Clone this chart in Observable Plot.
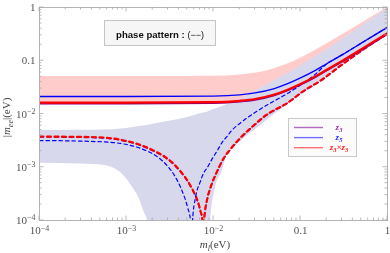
<!DOCTYPE html>
<html><head><meta charset="utf-8">
<script src="https://cdn.jsdelivr.net/npm/d3@7"></script>
<script src="https://cdn.jsdelivr.net/npm/@observablehq/plot@0.6"></script>
<style>
body{margin:0;background:#fff;}
#chart{width:390px;height:253px;}
</style></head><body><div id="chart"></div>
<script>
// ---------- data ----------
// Inverted ordering band (pink)
const ioM     = [1e-4, 1e-3, 5e-3, 0.01, 0.02, 0.03, 0.05, 0.07, 0.1, 0.15, 0.2, 0.3, 0.5, 0.7, 1];
const ioUpper = [0.0506, 0.0506, 0.0508, 0.051, 0.054, 0.058, 0.071, 0.086, 0.112, 0.158, 0.206, 0.304, 0.502, 0.70, 1.0];
const ioLower = [0.0151, 0.0151, 0.0152, 0.0153, 0.0160, 0.0172, 0.0208, 0.0254, 0.0325, 0.046, 0.060, 0.089, 0.148, 0.208, 0.298];

// Normal ordering band (lavender)
const noM     = [1e-4, 3e-4, 5.4e-4, 9.2e-4, 1.2e-3, 1.4e-3, 1.6e-3, 1.74e-3, 1.78e-3, 3e-3, 5e-3, 7e-3, 9.2e-3, 9.3e-3, 0.0105, 0.0127, 0.0145, 0.0189, 0.0228, 0.03, 0.05, 0.07, 0.1, 0.15, 0.2, 0.3, 0.5, 0.7, 1];
const noUpper = [4.9e-3, 4.95e-3, 5.0e-3, 5.3e-3, 5.6e-3, 5.8e-3, 6.0e-3, 6.1e-3, 6.15e-3, 7.2e-3, 8.6e-3, 0.0101, 0.0114, 0.0115, 0.0124, 0.0138, 0.0150, 0.0178, 0.0205, 0.0265, 0.042, 0.057, 0.08, 0.12, 0.16, 0.25, 0.44, 0.64, 0.95];
const noLower = [1.19e-3, 1.15e-3, 1.09e-3, 7.1e-4, 4.0e-4, 2.6e-4, 1.41e-4, 1e-4, 1e-6, 1e-6, 1e-6, 1e-6, 1e-6, 1e-4, 4e-4, 8.7e-4, 1.8e-3, 2.7e-3, 3.6e-3, 5.0e-3, 9.8e-3, 0.0148, 0.023, 0.037, 0.052, 0.083, 0.145, 0.205, 0.295];

// Solid lines (inverted ordering)
const solidM   = [1e-4, 1e-3, 0.01, 0.02, 0.03, 0.05, 0.07, 0.1, 0.15, 0.2, 0.3, 0.5, 0.7, 1];
const z5Solid  = [0.0213, 0.0213, 0.0217, 0.0229, 0.0249, 0.0301, 0.0367, 0.0476, 0.0668, 0.0878, 0.129, 0.214, 0.299, 0.426];
const z33Solid = [0.0164, 0.0164, 0.0167, 0.0177, 0.0191, 0.0232, 0.0283, 0.0367, 0.0515, 0.0676, 0.0996, 0.165, 0.231, 0.328];
const z3Solid  = [0.0156, 0.0156, 0.0159, 0.0169, 0.0183, 0.0222, 0.0271, 0.0352, 0.0494, 0.0649, 0.0956, 0.158, 0.222, 0.315];

// Dashed lines (normal ordering)
const redDM  = [1e-4, 3e-4, 5.4e-4, 8.5e-4, 1.3e-3, 2.04e-3, 2.8e-3, 3.47e-3, 4.2e-3, 5.02e-3, 5.8e-3, 6.55e-3, 7.1e-3, 7.48e-3, 7.62e-3, 7.8e-3, 8.53e-3, 9.25e-3, 0.0111, 0.013, 0.0157, 0.0204, 0.0266, 0.04, 0.071, 0.108, 0.17, 0.31, 0.5, 0.7, 1];
const z33Dash = [3.77e-3, 3.72e-3, 3.62e-3, 3.3e-3, 2.79e-3, 2.07e-3, 1.55e-3, 1.17e-3, 8.3e-4, 5.63e-4, 3.7e-4, 2.38e-4, 1.5e-4, 1e-4, 1e-5, 1e-4, 2.7e-4, 4.2e-4, 8.7e-4, 1.45e-3, 2.2e-3, 3.6e-3, 5.4e-3, 9.5e-3, 0.0163, 0.027, 0.0425, 0.0887, 0.155, 0.225, 0.325];
const z3Dash  = [3.70e-3, 3.65e-3, 3.55e-3, 3.24e-3, 2.73e-3, 2.02e-3, 1.51e-3, 1.14e-3, 8.1e-4, 5.5e-4, 3.6e-4, 2.3e-4, 1.45e-4, 1e-4, 1e-5, 1e-4, 2.6e-4, 4.1e-4, 8.5e-4, 1.42e-3, 2.15e-3, 3.5e-3, 5.3e-3, 9.3e-3, 0.016, 0.0265, 0.0418, 0.087, 0.152, 0.22, 0.318];
const blueDM  = [1e-4, 5.4e-4, 8.5e-4, 1.3e-3, 1.74e-3, 2.3e-3, 2.96e-3, 3.6e-3, 4.18e-3, 5.02e-3, 5.45e-3, 5.6e-3, 5.74e-3, 6.21e-3, 7e-3, 7.67e-3, 8.53e-3, 0.0098, 0.0111, 0.0125, 0.0145, 0.016, 0.0204, 0.0288, 0.045, 0.071, 0.1, 0.141, 0.2, 0.3, 0.5, 0.7, 1];
const z5Dash  = [3.18e-3, 3.0e-3, 2.8e-3, 2.4e-3, 2.0e-3, 1.55e-3, 1.05e-3, 6.8e-4, 4.2e-4, 1.8e-4, 1e-4, 1e-5, 1e-4, 2.7e-4, 5.2e-4, 7.64e-4, 1.0e-3, 1.5e-3, 2.07e-3, 2.9e-3, 3.9e-3, 4.8e-3, 6.8e-3, 0.0102, 0.016, 0.0243, 0.035, 0.052, 0.087, 0.129, 0.214, 0.299, 0.426];

// Ticks and labels
const xTickVals   = [1e-4, 1e-3, 1e-2, 0.1, 1];
const xTickLabels = ["10^-4", "10^-3", "10^-2", "0.1", "1"];
const yTickVals   = [1e-4, 1e-3, 1e-2, 0.1, 1];
const yTickLabels = ["10^-4", "10^-3", "10^-2", "0.1", "1"];

const legendSubs   = [["3"], ["5"], ["3", "3"]];
const legendColors = ["#9b30a8", "#2b2bff", "#ff2020"];
const legendLines  = ["#b06cc0", "#7070ff", "#ff7070"];

// ---------- tables ----------
const ioTable = ioM.map((m, i) => ({m, lo: ioLower[i], hi: ioUpper[i]}));
const noTable = noM.map((m, i) => ({m, lo: noLower[i], hi: noUpper[i]}));
const tbl = (ms, vs) => ms.map((m, i) => ({m, v: vs[i]}));
const labelOf = (vals, labels) => (d) => {
  let best = 0;
  vals.forEach((v, i) => { if (Math.abs(Math.log10(v) - Math.log10(d)) < Math.abs(Math.log10(vals[best]) - Math.log10(d))) best = i; });
  return labels[best];
};

const lineOpts = (extra) => Object.assign({x: "m", y: "v", clip: true, curve: "monotone-x"}, extra);

const chart = Plot.plot({
  width: 390, height: 253,
  marginLeft: 39, marginRight: 3, marginTop: 7, marginBottom: 33,
  style: {background: "white", fontFamily: "Liberation Serif", fontSize: "11px", color: "#555", overflow: "visible"},
  x: {type: "log", domain: [1e-4, 1]},
  y: {type: "log", domain: [1e-4, 1]},
  marks: [
    Plot.areaY(ioTable, {x: "m", y1: "lo", y2: "hi", fill: "#ffcccc", mixBlendMode: "multiply", clip: true, curve: "monotone-x"}),
    Plot.areaY(noTable, {x: "m", y1: "lo", y2: "hi", fill: "#d8d8ec", mixBlendMode: "multiply", clip: true, curve: "monotone-x"}),
    Plot.line(tbl(redDM, z3Dash), lineOpts({stroke: "#800080", strokeWidth: 1.6, strokeDasharray: "4,3.5"})),
    Plot.line(tbl(redDM, z33Dash), lineOpts({stroke: "#ff0000", strokeWidth: 2.1, strokeDasharray: "4,3.5"})),
    Plot.line(tbl(blueDM, z5Dash), lineOpts({stroke: "#0000ff", strokeWidth: 1.2, strokeDasharray: "3.5,3"})),
    Plot.line(tbl(solidM, z3Solid), lineOpts({stroke: "#800080", strokeWidth: 1.4})),
    Plot.line(tbl(solidM, z33Solid), lineOpts({stroke: "#ff0000", strokeWidth: 2.2})),
    Plot.line(tbl(solidM, z5Solid), lineOpts({stroke: "#0000ff", strokeWidth: 1.3})),
    Plot.frame({stroke: "#b4b4b4"}),
    Plot.axisX({ticks: xTickVals, tickFormat: labelOf(xTickVals, xTickLabels), tickSize: 0, tickPadding: 6, label: null, fontSize: 11}),
    Plot.axisY({ticks: yTickVals, tickFormat: labelOf(yTickVals, yTickLabels), tickSize: 0, tickPadding: 4, label: null, fontSize: 11})
  ]
});
document.getElementById("chart").appendChild(chart);

// ---------- superscript tick labels ----------
const svg = d3.select(chart);
svg.selectAll("text").each(function() {
  const t = d3.select(this);
  if (t.selectAll("tspan").size() > 1) return;
  const s = t.text();
  const mm = s.match(/^10\^-(\d)$/);
  if (mm) {
    t.selectAll("*").remove();
    t.text("");
    t.append("tspan").text("10");
    t.append("tspan").attr("dy", "-0.45em").attr("font-size", "0.72em").text("\u2212" + mm[1]);
  }
});

// ---------- inside ticks on all four sides ----------
const sx = chart.scale("x"), sy = chart.scale("y");
const x0 = sx.apply(1e-4), x1 = sx.apply(1), y0 = sy.apply(1e-4), y1 = sy.apply(1);
const tg = svg.append("g").attr("stroke", "#a8a8a8").attr("stroke-width", 0.8);
const minor = [];
for (let e = -4; e < 0; e++) for (let k = 2; k <= 9; k++) minor.push(k * Math.pow(10, e));
const tickSet = [...xTickVals.map(v => [v, 4.5]), ...minor.map(v => [v, 2.5])];
for (const [v, len] of tickSet) {
  const px = sx.apply(v), py = sy.apply(v);
  tg.append("line").attr("x1", px).attr("x2", px).attr("y1", y0).attr("y2", y0 - len);
  tg.append("line").attr("x1", px).attr("x2", px).attr("y1", y1).attr("y2", y1 + len);
  tg.append("line").attr("y1", py).attr("y2", py).attr("x1", x0).attr("x2", x0 + len);
  tg.append("line").attr("y1", py).attr("y2", py).attr("x1", x1).attr("x2", x1 - len);
}

// ---------- axis labels ----------
const ylab = svg.append("text")
  .attr("transform", `translate(10,${(y0 + y1) / 2 + 4}) rotate(-90)`)
  .attr("text-anchor", "middle").attr("font-family", "Liberation Serif").attr("font-size", 11).attr("fill", "#444");
ylab.append("tspan").text("|");
ylab.append("tspan").attr("font-style", "italic").text("m");
ylab.append("tspan").attr("font-style", "italic").attr("font-size", 8).attr("dy", 2.5).text("ee");
ylab.append("tspan").attr("dy", -2.5).text("|(eV)");

const xlab = svg.append("text")
  .attr("x", (x0 + x1) / 2 + 2).attr("y", 248)
  .attr("text-anchor", "middle").attr("font-family", "Liberation Serif").attr("font-size", 11).attr("fill", "#444");
xlab.append("tspan").attr("font-style", "italic").text("m");
xlab.append("tspan").attr("font-style", "italic").attr("font-size", 8).attr("dy", 2.5).text("l");
xlab.append("tspan").attr("dy", -2.5).text("(eV)");

// ---------- phase-pattern box ----------
const pb = svg.append("g");
pb.append("rect").attr("x", 104.5).attr("y", 20.5).attr("width", 111).attr("height", 25)
  .attr("fill", "#f6f6f6").attr("stroke", "#c4c4c4");
const pt = pb.append("text").attr("x", 160).attr("y", 37.5).attr("text-anchor", "middle")
  .attr("font-family", "Liberation Sans").attr("font-size", 9.6).attr("fill", "#111");
pt.append("tspan").attr("font-weight", "bold").text("phase pattern : ");
pt.append("tspan").attr("font-size", 9).text("(\u2212\u2212)");

// ---------- legend ----------
const lg = svg.append("g");
lg.append("rect").attr("x", 288.5).attr("y", 118.5).attr("width", 68).attr("height", 38)
  .attr("fill", "#fbfbfb").attr("stroke", "#c8c8c8");
legendSubs.forEach((subs, i) => {
  const yy = 127.5 + i * 10.1;
  lg.append("line").attr("x1", 294).attr("x2", 323).attr("y1", yy).attr("y2", yy)
    .attr("stroke", legendLines[i]).attr("stroke-width", 1.4);
  const t = lg.append("text").attr("x", 339).attr("y", yy + 2.5).attr("text-anchor", "middle")
    .attr("font-family", "Liberation Serif").attr("font-style", "italic").attr("font-weight", "bold")
    .attr("font-size", 9).attr("fill", legendColors[i]);
  subs.forEach((s, j) => {
    t.append("tspan").attr("dy", j === 0 ? 0 : -2).text(j === 0 ? "z" : "\u00d7z");
    t.append("tspan").attr("font-size", 6.5).attr("dy", 2).text(s);
  });
});
</script>
</body></html>
